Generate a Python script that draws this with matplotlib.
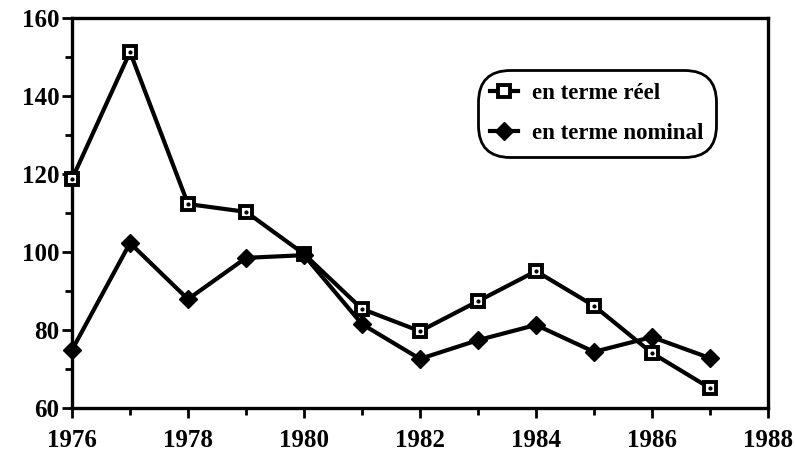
import matplotlib
matplotlib.use("Agg")
import matplotlib.pyplot as plt
from matplotlib.ticker import MultipleLocator

years = [1976, 1977, 1978, 1979, 1980, 1981, 1982, 1983, 1984, 1985, 1986, 1987]
reel = [118.7, 151.3, 112.3, 110.3, 99.5, 85.4, 79.7, 87.4, 95.1, 86.2, 74.1, 65.1]
nominal = [74.9, 102.3, 87.9, 98.5, 99.2, 81.5, 72.6, 77.4, 81.3, 74.4, 78.2, 72.8]
x_ticks = [1976, 1978, 1980, 1982, 1984, 1986, 1988]
y_ticks = [60, 80, 100, 120, 140, 160]

plt.rcParams['font.family'] = ['Liberation Serif', 'DejaVu Serif']
plt.rcParams['font.weight'] = 'bold'

fig = plt.figure(figsize=(7.95, 4.55), dpi=100)
ax = fig.add_axes([0.0906, 0.1033, 0.8754, 0.857])

ax.plot(years, reel, color='black', lw=3, marker='s', ms=8, mfc='white',
        mec='black', mew=2.8, zorder=3, label='en terme réel', clip_on=False)
ax.plot(years, reel, ls='none', marker='o', ms=2, color='black', zorder=4, clip_on=False)
ax.plot(years, nominal, color='black', lw=3, marker='D', ms=9, mfc='black',
        mec='black', zorder=3, label='en terme nominal', clip_on=False)

ax.set_xlim(1976, 1988)
ax.set_ylim(60, 160)
ax.set_xticks(x_ticks)
ax.xaxis.set_minor_locator(MultipleLocator(1))
ax.set_yticks(y_ticks)
ax.yaxis.set_minor_locator(MultipleLocator(10))
ax.tick_params(axis='both', which='both', direction='out', width=2, labelsize=18)
ax.tick_params(axis='both', which='major', length=7)
ax.tick_params(axis='both', which='minor', length=5)
ax.tick_params(axis='x', pad=8)
ax.tick_params(axis='y', pad=2)
for s in ax.spines.values():
    s.set_linewidth(2.4)

for lbl in ax.get_xticklabels() + ax.get_yticklabels():
    lbl.set_fontweight('bold')

leg = ax.legend(loc='upper left', bbox_to_anchor=(0.583, 0.867), frameon=True,
                handlelength=1.2, labelspacing=0.85, handletextpad=0.6,
                borderpad=0.55, borderaxespad=0, fancybox=True, edgecolor='black',
                prop={'weight': 'bold', 'size': 16.5})
frame = leg.get_frame()
frame.set_linewidth(2)
frame.set_boxstyle('round,pad=0,rounding_size=1.4')
frame.set_alpha(1)

fig.savefig('out.png', dpi=100)
